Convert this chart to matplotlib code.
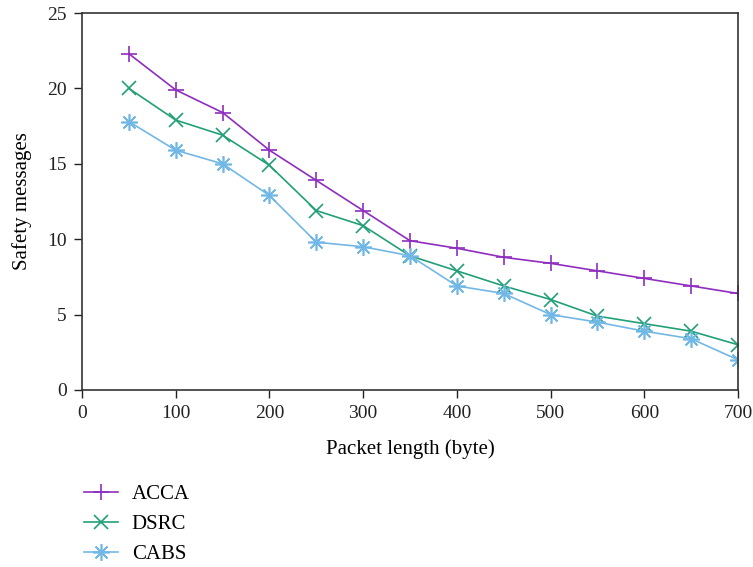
import matplotlib
matplotlib.use("Agg")
import matplotlib.pyplot as plt

packet_length = [50, 100, 150, 200, 250, 300, 350, 400, 450, 500, 550, 600, 650, 700]
acca = [22.3, 19.9, 18.4, 15.9, 13.9, 11.9, 9.9, 9.4, 8.8, 8.4, 7.9, 7.4, 6.9, 6.4]
dsrc = [20.0, 17.9, 16.9, 14.9, 11.9, 10.9, 8.9, 7.9, 6.9, 6.0, 4.9, 4.4, 3.9, 3.0]
cabs = [17.8, 15.9, 15.0, 12.9, 9.8, 9.5, 8.9, 6.9, 6.4, 5.0, 4.5, 3.9, 3.4, 2.0]
series_names = ["ACCA", "DSRC", "CABS"]
xticks = [0, 100, 200, 300, 400, 500, 600, 700]
yticks = [0, 5, 10, 15, 20, 25]

plt.rcParams['font.family'] = ['Liberation Serif', 'DejaVu Serif']

fig = plt.figure(figsize=(7.53, 5.67), dpi=100)
ax = fig.add_axes([82/753, 1-390/567, (738-82)/753, (390-13)/567])

colors = ["#8F2DBF", "#21A077", "#72B8E6"]
markers = ['+', 'x', (8, 2, 0)]
sizes = [12, 10, 12]
for ys, name, c, m, s in zip([acca, dsrc, cabs], series_names, colors, markers, sizes):
    ax.plot(packet_length, ys, color=c, marker=m, markersize=s, markeredgewidth=1.2,
            linewidth=1.2, label=name)

ax.set_xlim(0, 700)
ax.set_ylim(0, 25)
ax.set_xticks(xticks)
ax.set_yticks(yticks)
ax.tick_params(direction='out', length=6, width=1, labelsize=14, colors='#222222', pad=5)
for sp in ax.spines.values():
    sp.set_color('#333333')
    sp.set_linewidth(1.2)

ax.set_xlabel("Packet length (byte)", fontsize=15, labelpad=12)
ax.set_ylabel("Safety messages", fontsize=15, labelpad=11)

handles, labels = ax.get_legend_handles_labels()
fig.legend(handles, labels, loc='upper left', bbox_to_anchor=(65/753, 1-466/567),
           frameon=False, fontsize=15, handlelength=1.65, labelspacing=0.5,
           handletextpad=0.65)

fig.savefig("out.png", dpi=100)
